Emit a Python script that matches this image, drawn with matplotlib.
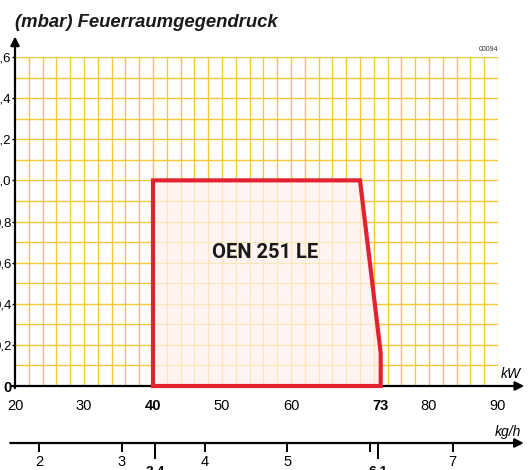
import numpy as np
import matplotlib
matplotlib.use("Agg")
import matplotlib.pyplot as plt

plt.rcParams["font.family"] = ["Liberation Sans", "DejaVu Sans"]

# working field of the burner (kW vs. mbar)
field_kw = [40, 40, 70, 73, 73, 40]
field_mbar = [0, 1.0, 1.0, 0.16, 0, 0]
field_label = "OEN 251 LE"

kw_ticks = [20, 30, 40, 50, 60, 73, 80, 90]
kw_bold = [40, 73]
mbar_ticks = [0, 0.2, 0.4, 0.6, 0.8, 1.0, 1.2, 1.4, 1.6]
mbar_labels = ["0", "0,2", "0,4", "0,6", "0,8", "1,0", "1,2", "1,4", "1,6"]

kg_ticks = [2, 3, 3.4, 4, 5, 6, 6.1, 7]
kg_labels = ["2", "3", "3,4", "4", "5", "", "6,1", "7"]
kg_bold = [3.4, 6.1]

W, H = 529, 470
GRID = "#F7C73A"
RED = "#E2222E"

fig = plt.figure(figsize=(W / 100, H / 100), dpi=100)
fig.patch.set_facecolor("white")

ax = fig.add_axes([15 / W, 84 / H, 483 / W, 329 / H])
ax.set_xlim(20, 90)
ax.set_ylim(0, 1.6)
for s in ax.spines.values():
    s.set_visible(False)

# yellow grid
ax.vlines(np.arange(22, 91, 2), 0, 1.6, color=GRID, lw=1.0, zorder=1)
ax.hlines(np.arange(0.1, 1.61, 0.1), 20, 90, color=GRID, lw=1.0, zorder=1)

# working field
ax.fill(field_kw, field_mbar, color="#FFF1EC", alpha=0.72, lw=0, zorder=2)
ax.plot(field_kw, field_mbar, color=RED, lw=3.0, solid_joinstyle="miter",
        clip_on=False, zorder=5)
ax.text(56.3, 0.65, field_label, fontsize=14.5, fontweight="bold",
        family="Roboto", ha="center", va="center", color="#1a1a1a", zorder=6)

# axes with arrows
arrow = dict(arrowstyle="-|>", lw=1.6, color="black", mutation_scale=13,
             shrinkA=0, shrinkB=0)
ax.annotate("", xy=(93.8, 0), xytext=(19.5, 0), arrowprops=arrow,
            annotation_clip=False, zorder=4)
ax.annotate("", xy=(20, 1.7), xytext=(20, -0.01), arrowprops=arrow,
            annotation_clip=False, zorder=4)

ax.set_xticks(kw_ticks)
ax.set_xticklabels([str(t) for t in kw_ticks], fontsize=10.5)
for lab, t in zip(ax.get_xticklabels(), kw_ticks):
    if t in kw_bold:
        lab.set_fontweight("bold")
ax.tick_params(axis="x", length=0, pad=9)

ax.set_yticks(mbar_ticks)
ax.set_yticklabels(mbar_labels, fontsize=9.5)
ax.get_yticklabels()[0].set_fontweight("bold")
ax.get_yticklabels()[0].set_fontsize(10.5)
ax.tick_params(axis="y", length=2, width=1.0, pad=0.5)

ax.text(93.3, 0.025, "kW", fontsize=10, fontstyle="italic",
        ha="right", va="bottom")
ax.text(90, 1.62, "00094", fontsize=5, ha="right", va="bottom", color="#333333")

fig.text(15 / W, 1 - 27 / H, "(mbar) Feuerraumgegendruck", fontsize=13.3,
         fontweight="bold", fontstyle="italic", ha="left", va="baseline",
         color="#1a1a1a")

# kg/h scale below
ax2 = fig.add_axes([0, 7 / H, 1, 40 / H])
ax2.set_xlim(126.2 / 82.7, (W + 126.2) / 82.7)
ax2.set_ylim(-20, 20)
ax2.axis("off")
ax2.annotate("", xy=(7.86, 0), xytext=(1.65, 0), arrowprops=arrow,
             annotation_clip=False)
for k, lab in zip(kg_ticks, kg_labels):
    if k in kg_bold:
        ax2.vlines(k, -16, 0, color="black", lw=1.4, clip_on=False)
        ax2.text(k, -22, lab, fontsize=10, fontweight="bold", ha="center",
                 va="top", clip_on=False)
    else:
        ax2.vlines(k, -9, 0, color="black", lw=1.4, clip_on=False)
        ax2.text(k, -19, lab, fontsize=10.5, ha="center", va="center",
                 clip_on=False)
ax2.text(7.83, 4, "kg/h", fontsize=10, fontstyle="italic", ha="right",
         va="bottom")

fig.savefig("out.png", dpi=100)
